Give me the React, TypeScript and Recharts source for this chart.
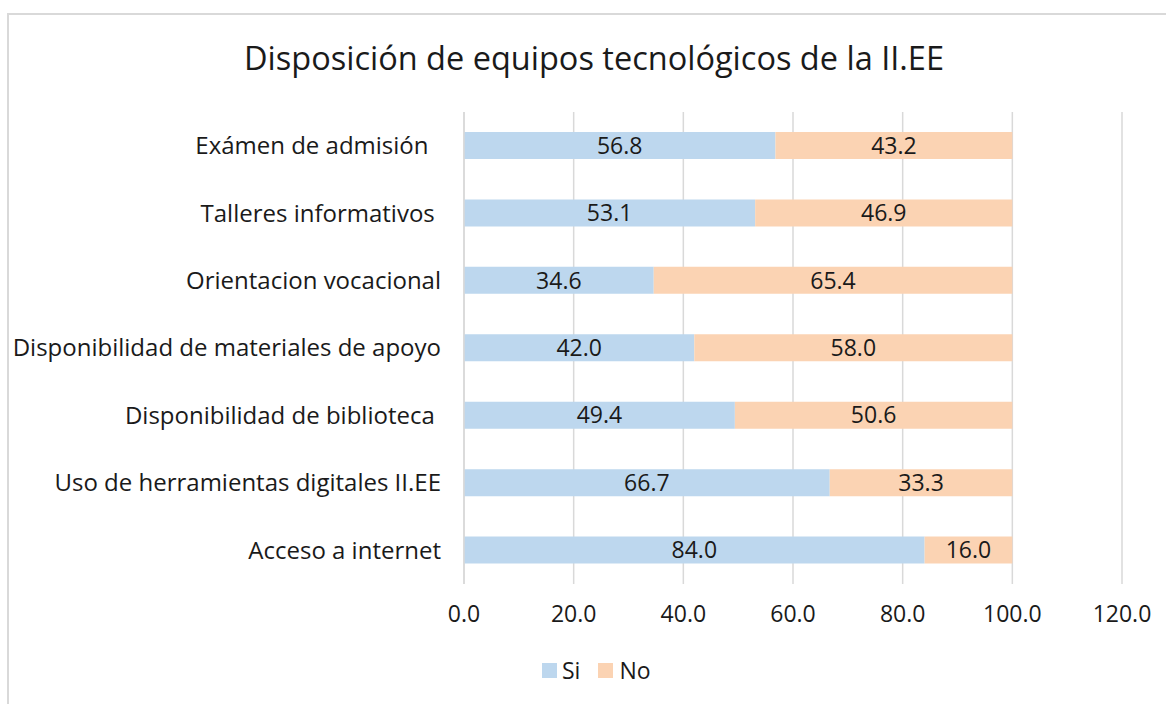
import React from 'react';
import { BarChart, Bar, XAxis, YAxis, CartesianGrid, Legend, LabelList } from 'recharts';

const categories = [
  'Exámen de admisión  ',
  'Talleres informativos ',
  'Orientacion vocacional',
  'Disponibilidad de materiales de apoyo',
  'Disponibilidad de biblioteca ',
  'Uso de herramientas digitales II.EE',
  'Acceso a internet',
];
const siValues = [56.8, 53.1, 34.6, 42.0, 49.4, 66.7, 84.0];
const noValues = [43.2, 46.9, 65.4, 58.0, 50.6, 33.3, 16.0];
const xTicks = [0, 20, 40, 60, 80, 100, 120];

const data = categories.map((name, i) => ({ name, si: siValues[i], no: noValues[i] }));

const FONT = '"Open Sans", Lato, sans-serif';
const BLUE = '#BDD7EE';
const ORANGE = '#FBD3B3';
const GRID = '#D9D9D9';
const TEXT = '#1a1a1a';

const YTick = ({ x, y, payload }: any) => (
  <text
    x={x - 15}
    y={y}
    dy="0.35em"
    textAnchor="end"
    fill={TEXT}
    fontSize={24}
    fontFamily={FONT}
    style={{ whiteSpace: 'pre' }}
  >
    {payload.value}
  </text>
);

const LegendContent = () => (
  <div style={{ display: 'flex', alignItems: 'center', paddingLeft: 542, fontFamily: FONT, fontSize: 23, color: TEXT }}>
    <span style={{ width: 15, height: 15, background: BLUE, display: 'inline-block', marginRight: 5 }} />
    <span style={{ marginRight: 18 }}>Si</span>
    <span style={{ width: 15, height: 15, background: ORANGE, display: 'inline-block', marginRight: 6 }} />
    <span>No</span>
  </div>
);

export default function App() {
  return (
    <div style={{ position: 'absolute', left: 0, top: 0, width: 1166, height: 704, background: '#fff', overflow: 'hidden' }}>
      <div
        style={{
          position: 'absolute',
          left: 7,
          top: 13,
          width: 1166,
          height: 704,
          border: `2px solid ${GRID}`,
          boxSizing: 'border-box',
        }}
      />
      <div
        style={{
          position: 'absolute',
          left: 22,
          top: 38,
          width: 1144,
          textAlign: 'center',
          fontFamily: FONT,
          fontSize: 32.5,
          lineHeight: '40px',
          color: TEXT,
        }}
      >
        Disposición de equipos tecnológicos de la II.EE
      </div>
      <div style={{ position: 'absolute', left: 0, top: 0 }}>
        <BarChart
          width={1166}
          height={704}
          data={data}
          layout="vertical"
          margin={{ top: 112, right: 44, left: 0, bottom: 80 }}
        >
          <CartesianGrid horizontal={false} stroke={GRID} strokeWidth={1.5} />
          <XAxis
            type="number"
            domain={[0, 120]}
            ticks={xTicks}
            tickFormatter={(v: number) => v.toFixed(1)}
            axisLine={false}
            tickLine={false}
            height={40}
            tickMargin={16}
            tick={{ fill: TEXT, fontSize: 23, fontFamily: FONT }}
          />
          <YAxis
            type="category"
            dataKey="name"
            width={464}
            axisLine={{ stroke: GRID, strokeWidth: 1.5 }}
            tickLine={false}
            tick={<YTick />}
            interval={0}
          />
          <Legend
            layout="horizontal"
            verticalAlign="middle"
            align="center"
            content={<LegendContent />}
            wrapperStyle={{ top: 654, left: 0, width: 1166 }}
          />
          <Bar dataKey="si" name="Si" stackId="a" fill={BLUE} barSize={27} isAnimationActive={false}>
            <LabelList
              dataKey="si"
              position="center"
              formatter={(v: any) => Number(v).toFixed(1)}
              fill={TEXT}
              fontSize={23}
              fontFamily={FONT}
            />
          </Bar>
          <Bar dataKey="no" name="No" stackId="a" fill={ORANGE} barSize={27} isAnimationActive={false}>
            <LabelList
              dataKey="no"
              position="center"
              formatter={(v: any) => Number(v).toFixed(1)}
              fill={TEXT}
              fontSize={23}
              fontFamily={FONT}
            />
          </Bar>
        </BarChart>
      </div>
    </div>
  );
}
